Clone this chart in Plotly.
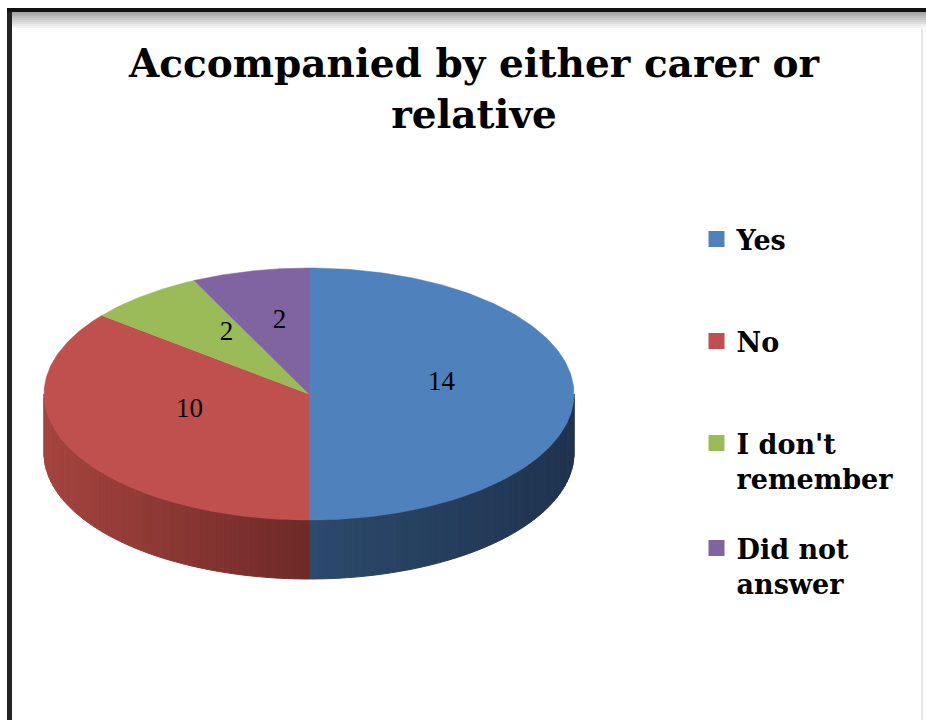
import numpy as np
import plotly.graph_objects as go

# ---- data ----
categories = ["Yes", "No", "I don't remember", "Did not answer"]
counts = [14, 10, 2, 2]
legend_names = ["Yes", "No", "I don't<br>remember", "Did not<br>answer"]

# ---- styling ----
top_colors = ["#4F81BD", "#C0504D", "#9BBB59", "#8064A2"]
side_left = ["#2C4A6C", "#A5443F", "#7E9A48", "#66508A"]   # lighter end of a side wall
side_right = ["#1F334F", "#6E2A28", "#5E7335", "#4C3C69"]  # darker end of a side wall

W, H = 926, 720
CX, CY = 309, 394          # centre of the top face
RX, RY = 265, 126          # radii of the tilted disc
DEPTH = 59                 # thickness of the disc
LABEL_R = 0.5
LABEL_DY = -11

total = float(sum(counts))
ends = np.cumsum(counts) / total * 360.0
starts = np.concatenate([[0.0], ends[:-1]])


def ellipse(theta_deg, r=1.0, dy=0.0):
    t = np.radians(theta_deg)
    return CX + RX * r * np.sin(t), CY - RY * r * np.cos(t) + dy


def mix(c1, c2, f):
    a = [int(c1[i:i + 2], 16) for i in (1, 3, 5)]
    b = [int(c2[i:i + 2], 16) for i in (1, 3, 5)]
    return "#%02x%02x%02x" % tuple(round(a[k] + (b[k] - a[k]) * f) for k in range(3))


fig = go.Figure()

# side walls of the disc (only the front half, 90..270 deg clockwise from top, is visible)
for i in range(len(counts)):
    a0, a1 = max(starts[i], 90.0), min(ends[i], 270.0)
    if a1 <= a0:
        continue
    xs_all, _ = ellipse(np.linspace(a0, a1, 200))
    xmin, xmax = xs_all.min(), xs_all.max()
    n = 48
    edges = np.linspace(a0, a1, n + 1)
    for k in range(n):
        th = np.linspace(edges[k], edges[k + 1], 6)
        tx, ty = ellipse(th)
        bx, by = ellipse(th[::-1], dy=DEPTH)
        xm = ellipse((edges[k] + edges[k + 1]) / 2)[0]
        f = (xm - xmin) / (xmax - xmin) if xmax > xmin else 0.0
        c = mix(side_left[i], side_right[i], f)
        fig.add_trace(go.Scatter(
            x=np.concatenate([tx, bx, tx[:1]]), y=np.concatenate([ty, by, ty[:1]]),
            mode="lines", fill="toself", fillcolor=c,
            line=dict(color=c, width=1), hoverinfo="skip", showlegend=False))

# top face slices
for i in range(len(counts)):
    th = np.linspace(starts[i], ends[i], 160)
    px, py = ellipse(th)
    fig.add_trace(go.Scatter(
        x=np.concatenate([[CX], px, [CX]]), y=np.concatenate([[CY], py, [CY]]),
        mode="lines", fill="toself", fillcolor=top_colors[i],
        line=dict(color=top_colors[i], width=0.5),
        name=categories[i], text=f"{categories[i]}: {counts[i]}",
        hoverinfo="text", showlegend=False))

# value labels
mids = (starts + ends) / 2
lx, ly = ellipse(mids, r=LABEL_R, dy=LABEL_DY)
fig.add_trace(go.Scatter(
    x=lx, y=ly, mode="text", text=[str(v) for v in counts],
    textposition="middle center",
    textfont=dict(family="Liberation Serif", size=27, color="#000000"),
    hoverinfo="skip", showlegend=False))

# legend entries, one legend box per entry
legend_ids = ["legend", "legend2", "legend3", "legend4"]
legend_tops = [237, 339, 441, 546]   # centre of the first text line, px
for i in range(len(categories)):
    fig.add_trace(go.Scatter(
        x=[None], y=[None], mode="markers",
        marker=dict(symbol="square", size=17, color=top_colors[i]),
        name=legend_names[i], legend=legend_ids[i], showlegend=True))

legend_style = dict(
    font=dict(family="DejaVu Serif", size=27, color="#000000", weight="bold"),
    bgcolor="rgba(0,0,0,0)", borderwidth=0, valign="top",
    xanchor="left", yanchor="top", itemclick=False, itemdoubleclick=False)
legend_layout = {}
for lid, yc in zip(legend_ids, legend_tops):
    legend_layout[lid] = dict(legend_style, x=(716.5 - 20) / W, y=1 - (yc - 22) / H)

# frame around the chart area
shapes = [
    dict(type="rect", xref="x", yref="y", x0=7, x1=12, y0=8, y1=H,
         fillcolor="#232323", line=dict(width=0), layer="above"),
    dict(type="rect", xref="x", yref="y", x0=7, x1=W, y0=8, y1=12,
         fillcolor="#111111", line=dict(width=0), layer="above"),
    dict(type="line", xref="x", yref="y", x0=922, x1=922, y0=12, y1=H,
         line=dict(color="#E6E6E6", width=2), layer="below"),
]
for k in range(8):
    g = mix("#9A9A9A", "#FFFFFF", (k + 1) / 9)
    shapes.append(dict(type="rect", xref="x", yref="y", x0=12, x1=W, y0=12 + 2 * k,
                       y1=14 + 2 * k, fillcolor=g, line=dict(width=0), layer="below"))

fig.update_layout(
    width=W, height=H,
    margin=dict(l=0, r=0, t=0, b=0),
    paper_bgcolor="#FFFFFF", plot_bgcolor="#FFFFFF",
    xaxis=dict(range=[0, W], visible=False, fixedrange=True),
    yaxis=dict(range=[H, 0], visible=False, fixedrange=True),
    title=dict(
        text="Accompanied by either carer or<br>relative",
        font=dict(family="DejaVu Serif", size=39, color="#000000", weight="bold"),
        x=474 / W, xanchor="center", y=1 - 77 / H, yanchor="top",
        yref="container"),
    shapes=shapes,
    showlegend=True,
    **legend_layout,
)

fig.write_html("out.html")
